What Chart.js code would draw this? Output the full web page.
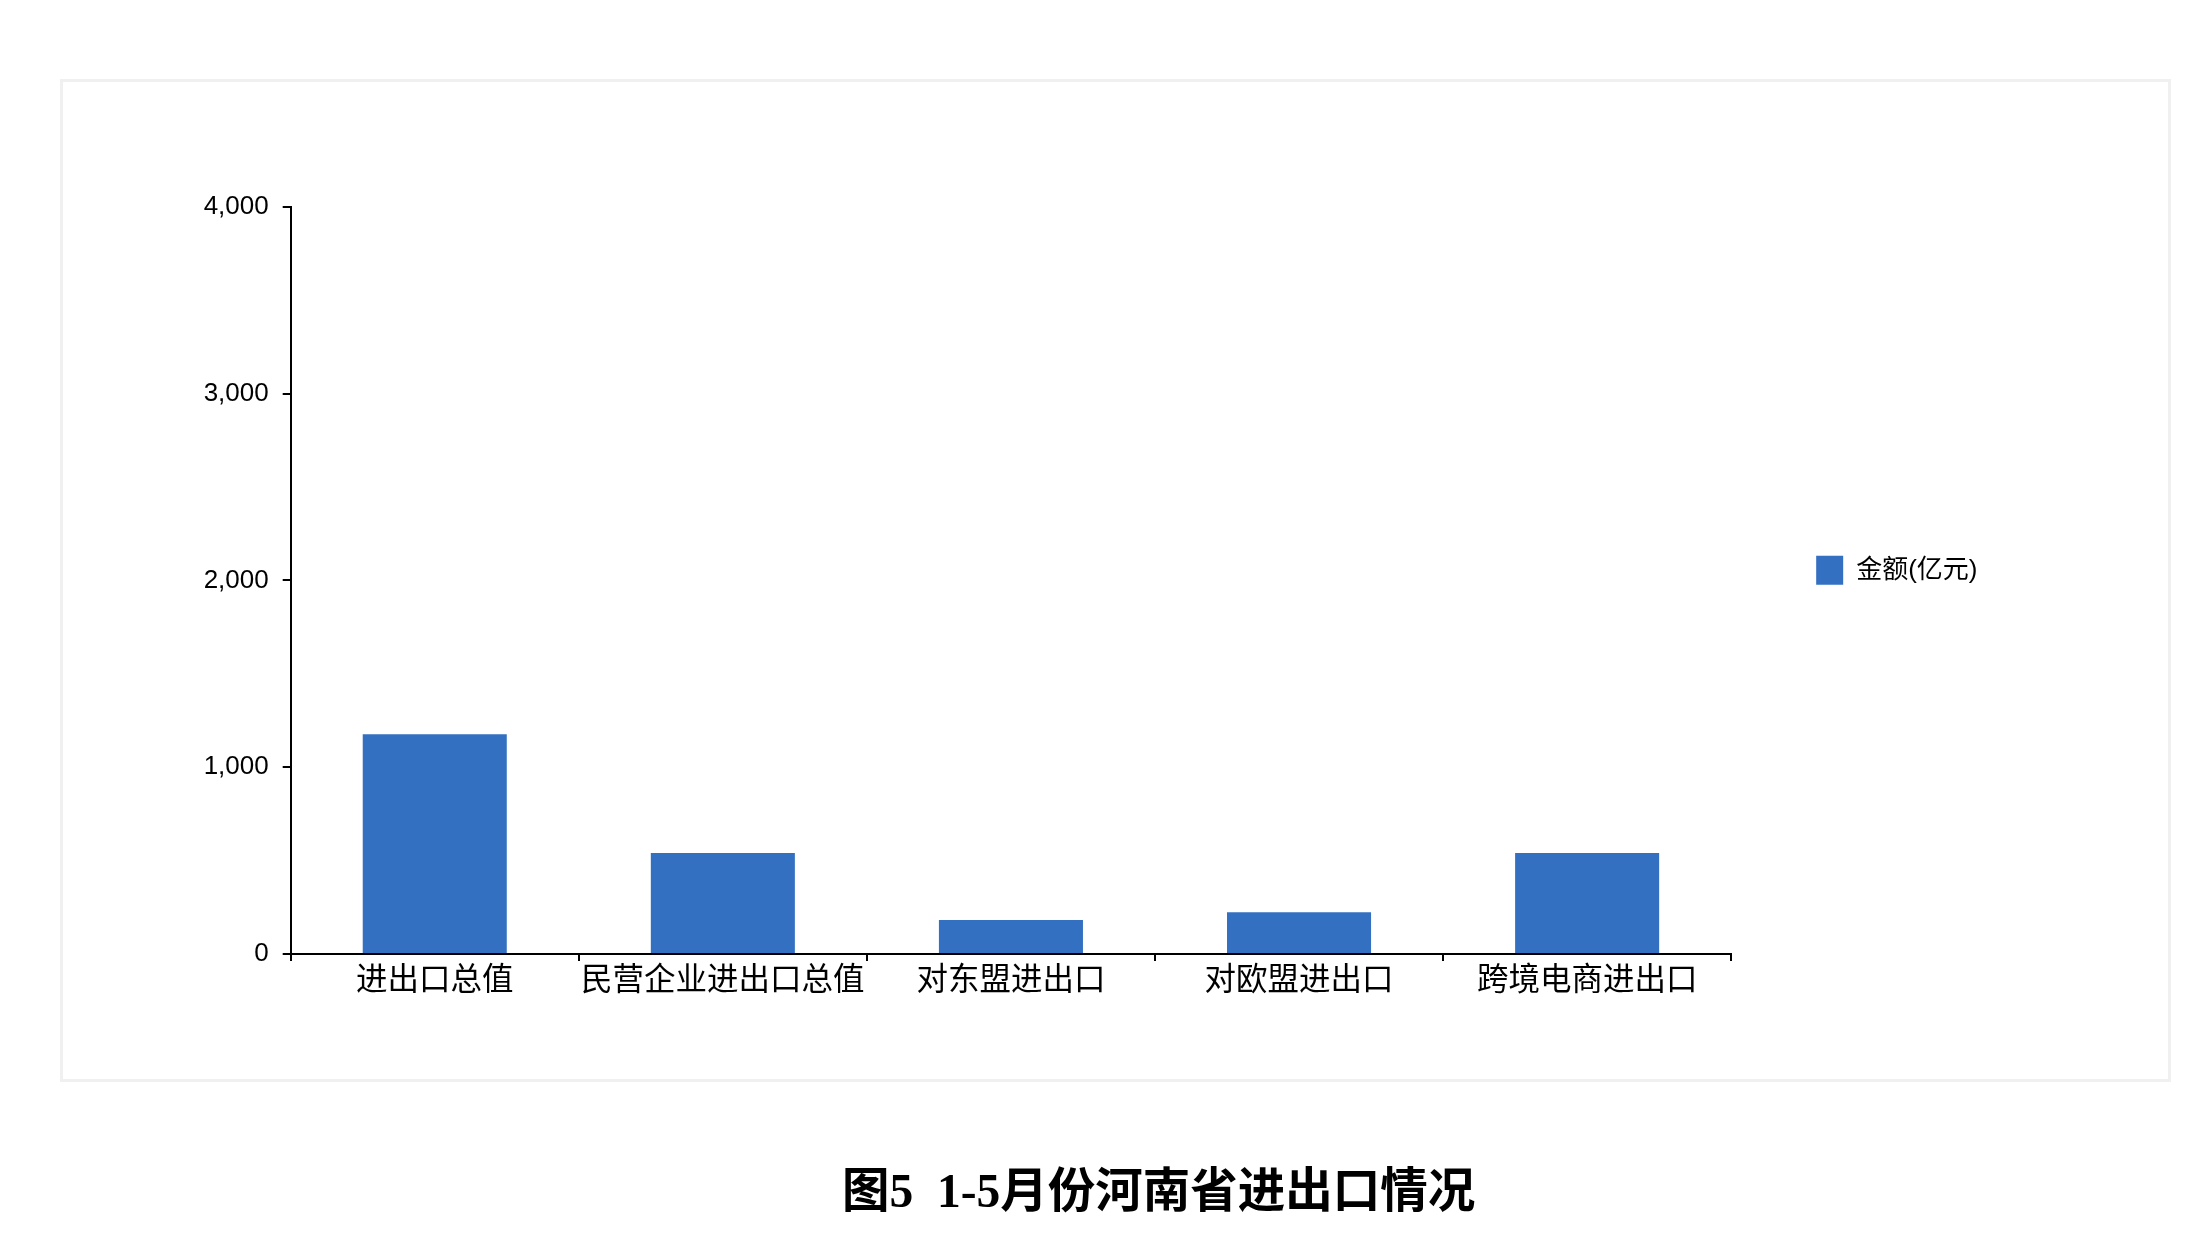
<!DOCTYPE html>
<html lang="zh-CN">
<head>
<meta charset="utf-8">
<title>图5 1-5月份河南省进出口情况</title>
<script src="https://cdn.jsdelivr.net/npm/chart.js@4.4.1/dist/chart.umd.min.js"></script>
<style>
  html, body { margin: 0; padding: 0; background: #fff; }
  body { width: 2208px; height: 1242px; position: relative; overflow: hidden; }
  .frame {
    position: absolute; left: 60px; top: 79px; width: 2111px; height: 1003px;
    box-sizing: border-box; border: 3px solid #f0f0f0;
  }
  .chart-wrap { position: absolute; left: 0; top: 0; width: 2208px; height: 1242px; }
  .caption {
    position: absolute; left: 842px; top: 1168px; white-space: pre;
    font-family: "Liberation Serif", "Noto Sans CJK SC", serif;
    font-weight: 700; font-size: 47.5px; line-height: 1; color: #000;
  }
</style>
</head>
<body>
<div class="frame"></div>
<div class="chart-wrap"><canvas id="tradeChart"></canvas></div>
<div class="caption">图5  1-5月份河南省进出口情况</div>

<script>
// categories and values (亿元)
const categories = ["进出口总值", "民营企业进出口总值", "对东盟进出口", "对欧盟进出口", "跨境电商进出口"];
const amounts = [1176, 541, 182, 224, 541];
const seriesName = "金额(亿元)";
const yTicks = [0, 1000, 2000, 3000, 4000];

const FONT = "'Liberation Sans', 'Noto Sans CJK SC', sans-serif";

// nudge the legend up, it sits above the middle of the plot in the original
const legendNudge = {
  id: 'legendNudge',
  afterLayout(chart) {
    if (chart.legend) {
      chart.legend.top -= 40;
      chart.legend.bottom -= 40;
    }
  }
};

const ctx = document.getElementById("tradeChart");
new Chart(ctx, {
  type: 'bar',
  data: {
    labels: categories,
    datasets: [{
      label: seriesName,
      data: amounts,
      backgroundColor: '#3370c1',
      borderWidth: 0,
      categoryPercentage: 0.5,
      barPercentage: 1.0
    }]
  },
  options: {
    responsive: true,
    maintainAspectRatio: false,
    animation: false,
    locale: 'en-US',
    layout: {
      padding: { left: 0, top: 206.7, right: 220.5, bottom: 228 }
    },
    plugins: {
      legend: {
        position: 'right',
        labels: {
          boxWidth: 27,
          boxHeight: 29,
          padding: 85,
          color: '#000',
          font: { family: FONT, size: 26 }
        }
      },
      tooltip: { enabled: false }
    },
    scales: {
      x: {
        afterFit: s => { s.height = 60; },
        grid: {
          drawOnChartArea: false,
          drawTicks: true,
          tickLength: 7,
          offset: true,
          color: '#000',
          lineWidth: 2
        },
        border: { display: true, color: '#000', width: 2 },
        ticks: {
          autoSkip: false,
          padding: 1,
          color: '#000',
          maxRotation: 0,
          font: { family: FONT, size: 31.5 }
        }
      },
      y: {
        min: yTicks[0],
        max: yTicks[yTicks.length - 1],
        afterFit: s => { s.width = 290.7; },
        afterBuildTicks: s => { s.ticks = yTicks.map(v => ({ value: v })); },
        grid: {
          drawOnChartArea: false,
          drawTicks: true,
          tickLength: 8,
          color: '#000',
          lineWidth: 2
        },
        border: { display: true, color: '#000', width: 2 },
        ticks: {
          padding: 14,
          color: '#000',
          font: { family: FONT, size: 26 },
          callback: v => v.toLocaleString('en-US')
        }
      }
    }
  },
  plugins: [legendNudge]
});
</script>
</body>
</html>
